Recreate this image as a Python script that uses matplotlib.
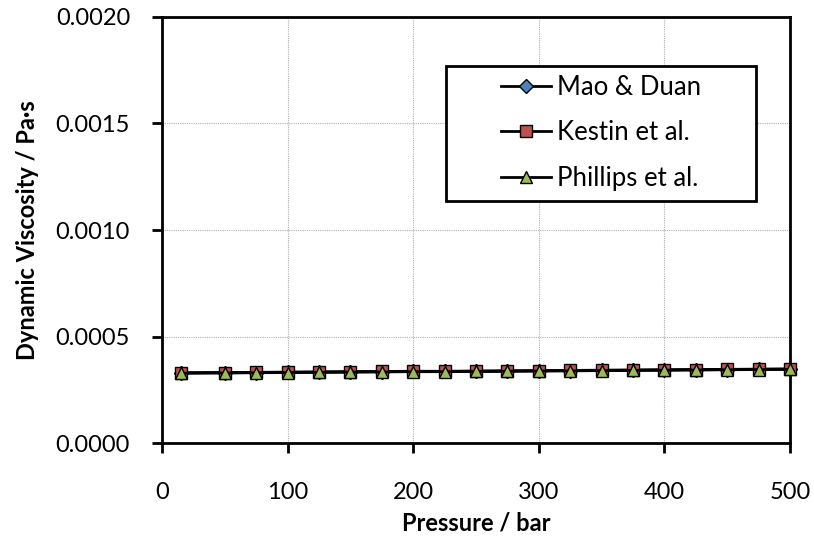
import matplotlib
matplotlib.use("Agg")
import matplotlib.pyplot as plt
from matplotlib.patches import Rectangle

plt.rcParams['font.family'] = ['Lato', 'DejaVu Sans']

pressure = [15, 50, 75, 100, 125, 150, 175, 200, 225, 250, 275, 300, 325, 350, 375, 400, 425, 450, 475, 500]
mao_duan = [0.000329, 0.000330, 0.000331, 0.000332, 0.000333, 0.000334, 0.000335, 0.000336, 0.000336, 0.000337,
            0.000338, 0.000339, 0.000340, 0.000341, 0.000342, 0.000343, 0.000344, 0.000345, 0.000346, 0.000347]
kestin = [0.000330, 0.000331, 0.000332, 0.000333, 0.000334, 0.000335, 0.000336, 0.000337, 0.000337, 0.000338,
          0.000339, 0.000340, 0.000341, 0.000342, 0.000343, 0.000344, 0.000345, 0.000346, 0.000347, 0.000348]
phillips = [0.000328, 0.000329, 0.000330, 0.000331, 0.000332, 0.000333, 0.000334, 0.000335, 0.000335, 0.000336,
            0.000337, 0.000338, 0.000339, 0.000340, 0.000341, 0.000342, 0.000343, 0.000344, 0.000345, 0.000346]

fig = plt.figure(figsize=(8.14, 5.39), dpi=100)
ax = fig.add_axes([0.199, 0.178, 0.7715, 0.7905])

ax.plot(pressure, mao_duan, color='black', lw=2, marker='D', ms=7, mfc='#4f81bd', mec='black', mew=1,
        label='Mao & Duan', clip_on=False, zorder=3)
ax.plot(pressure, kestin, color='black', lw=2, marker='s', ms=9, mfc='#c0504d', mec='black', mew=1,
        label='Kestin et al.', clip_on=False, zorder=4)
ax.plot(pressure, phillips, color='black', lw=2, marker='^', ms=9, mfc='#9bbb59', mec='black', mew=1,
        label='Phillips et al.', clip_on=False, zorder=5)

ax.set_xlim(0, 500)
ax.set_ylim(0, 0.002)
ax.set_xticks([0, 100, 200, 300, 400, 500])
ax.set_yticks([0, 0.0005, 0.0010, 0.0015, 0.0020])
ax.set_yticklabels(['0.0000', '0.0005', '0.0010', '0.0015', '0.0020'])
ax.tick_params(labelsize=17, width=2, length=7, direction='out')
ax.tick_params(axis='y', pad=16)
ax.tick_params(axis='x', pad=21)
ax.grid(True, color='#b0b0b0', linestyle=(0, (1, 1)), linewidth=0.8)
ax.set_axisbelow(True)
for s in ax.spines.values():
    s.set_linewidth(2)

ax.set_xlabel('Pressure / bar', fontsize=17, fontweight='bold', labelpad=6)
ax.set_ylabel('Dynamic Viscosity / Pa·s', fontsize=17, fontweight='bold', labelpad=12)

# legend box drawn separately (wide padding like the original)
ax.add_patch(Rectangle((0.452, 0.568), 0.494, 0.317, transform=ax.transAxes, facecolor='white',
                       edgecolor='black', linewidth=2, zorder=6))
leg = ax.legend(loc='center', bbox_to_anchor=(0.699, 0.728), fontsize=18.5, frameon=False,
                labelspacing=0.8, handlelength=1.95, handletextpad=0.2, borderpad=0)
leg.set_zorder(7)

fig.savefig('out.png', dpi=100)
